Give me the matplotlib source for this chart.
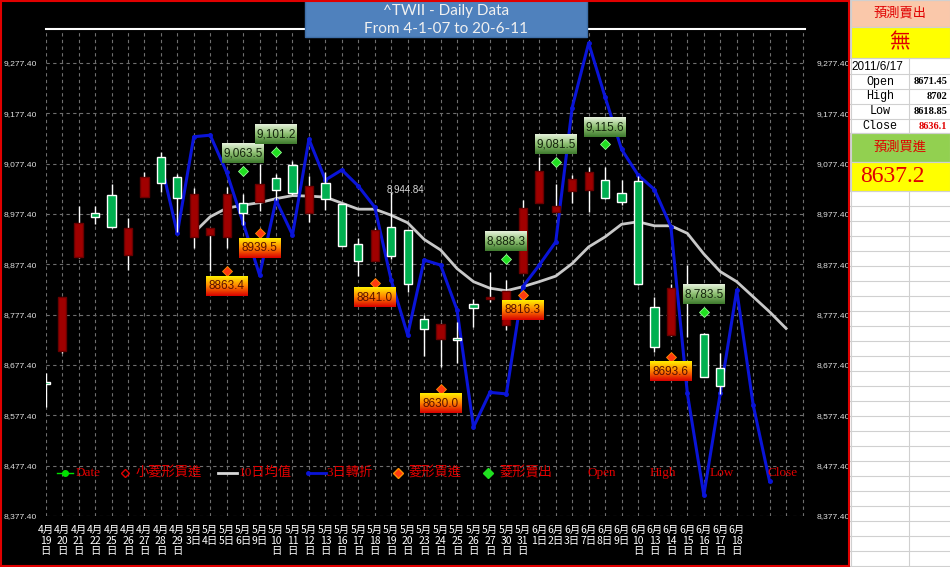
import numpy as np
import matplotlib
matplotlib.use('Agg')
import matplotlib.pyplot as plt
from matplotlib import font_manager
from matplotlib.patches import Rectangle
from matplotlib.lines import Line2D
from matplotlib.colors import LinearSegmentedColormap

# ---- data ----
dates = ['4月\n19\n日', '4月\n20\n日', '4月\n21\n日', '4月\n22\n日', '4月\n25\n日', '4月\n26\n日',
         '4月\n27\n日', '4月\n28\n日', '4月\n29\n日', '5月\n3日', '5月\n4日', '5月\n5日', '5月\n6日',
         '5月\n9日', '5月\n10\n日', '5月\n11\n日', '5月\n12\n日', '5月\n13\n日', '5月\n16\n日',
         '5月\n17\n日', '5月\n18\n日', '5月\n19\n日', '5月\n20\n日', '5月\n23\n日', '5月\n24\n日',
         '5月\n25\n日', '5月\n26\n日', '5月\n27\n日', '5月\n30\n日', '5月\n31\n日', '6月\n1日',
         '6月\n2日', '6月\n3日', '6月\n7日', '6月\n8日', '6月\n9日', '6月\n10\n日', '6月\n13\n日',
         '6月\n14\n日', '6月\n15\n日', '6月\n16\n日', '6月\n17\n日', '6月\n18\n日']

opens = [8644, 8706, 8892, 8980, 9016, 8895, 9012, 9090, 9050, 8931, 8936, 8932, 8999, 9002,
         9048, 9074, 8979, 9040, 8997, 8918, 8885, 8952, 8945, 8769, 8729, 8732, 8798, 8808,
         8757, 8861, 9000, 8982, 9024, 9026, 9044, 9020, 9043, 8792, 8737, 8805, 8740, 8671.45]
highs = [8661, 8813, 8993, 8993, 9038, 8969, 9061, 9100, 9057, 9030, 8949, 9031, 9018, 9076,
         9057, 9083, 9053, 9060, 8998, 8929, 8949, 9022, 8946, 8777, 8760, 8763, 8808, 8862,
         8846, 9005, 9091, 9037, 9055, 9071, 9071, 9045, 9053, 8813, 8838, 8876, 8741, 8702]
lows = [8593, 8701, 8890, 8957, 8950, 8867, 9011, 9022, 8942, 8909, 8865, 8910, 8956, 8984,
        9005, 9015, 8962, 8985, 8913, 8855, 8884, 8889, 8823, 8695, 8674, 8682, 8752, 8803,
        8747, 8860, 8999, 8981, 8999, 8982, 9008, 8995, 8837, 8704, 8736, 8734, 8653, 8618.85]
closes = [8639, 8813, 8959, 8971, 8951, 8949, 9050, 9040, 9009, 9018, 8949, 9017, 8979, 9037,
          9025, 9020, 9034, 9007, 8914, 8885, 8945, 8894, 8838, 8748, 8759, 8728, 8790, 8813,
          8825, 8989, 9063, 8993, 9046, 9060, 9009, 9001, 8838, 8714, 8830, 8830, 8654, 8636.1]

# 10日均值 (starts at 4/29)
ma_start = 9
ma10 = [8940, 8972, 8989, 8995, 9000, 9008, 9014, 9013, 9011, 8999, 8987, 8987, 8975, 8960,
        8927, 8906, 8869, 8843, 8830, 8825, 8833, 8843, 8854, 8879, 8912, 8932, 8957, 8962,
        8954, 8954, 8939, 8898, 8863, 8843, 8813, 8783, 8750]

# 3日轉折 (starts at 4/28)
turn_start = 7
turn3 = [9080, 8939, 9131, 9134, 9060, 8960, 8856, 9005, 8936, 9126, 9045, 9065, 9033, 8991,
         8846, 8737, 8886, 8876, 8787, 8554, 8623, 8620, 8833, 8876, 8922, 9189, 9317, 9210,
         9106, 9055, 9026, 8952, 8621, 8419, 8621, 8826, 8598, 8446]

buy_idx = [11, 13, 20, 24, 29, 38]
buy_val = [8863.4, 8939.5, 8841.0, 8630.0, 8816.3, 8693.6]
sell_idx = [12, 14, 28, 31, 34, 40]
sell_val = [9063.5, 9101.2, 8888.3, 9081.5, 9115.6, 8783.5]

note_idx, note_val, note_text = 21, 9026, '8,944.84'

yticks = [8377.40, 8477.40, 8577.40, 8677.40, 8777.40, 8877.40, 8977.40, 9077.40, 9177.40, 9277.40]

panel_date = '2011/6/17'
panel_fields = ['Open', 'High', 'Low', 'Close']
panel_values = ['8671.45', '8702', '8618.85', '8636.1']
panel_sell = '無'
panel_buy = '8637.2'

# ---- fonts ----
avail = {f.name for f in font_manager.fontManager.ttflist}
num_font = 'Liberation Sans Narrow' if 'Liberation Sans Narrow' in avail else 'Liberation Sans'
cjk = 'Noto Sans CJK TC'
serif_cjk = ['Liberation Serif', cjk]

W, H = 950, 567
fig = plt.figure(figsize=(9.5, 5.67), dpi=100)
fig.patch.set_facecolor('black')


def fx(px):
    return px / W


def fy(py):
    return 1 - py / H


ax = fig.add_axes([fx(45.7), fy(516), fx(805) - fx(45.7), fy(29.3) - fy(516)])
ax.set_facecolor('black')

RED = '#A00000'
GREEN = '#00B050'

# candles
bw = 0.5
for i in range(len(opens)):
    o, h, l, c = opens[i], highs[i], lows[i], closes[i]
    ax.vlines(i, l, h, color='white', lw=1, zorder=3)
    if c >= o:
        fc, ec = RED, '#6a0000'
    else:
        fc, ec = GREEN, 'white'
    ax.add_patch(Rectangle((i - bw / 2, min(o, c)), bw, max(abs(c - o), 4),
                           facecolor=fc, edgecolor=ec, lw=1, zorder=4))

# lines
ax.plot(range(ma_start, ma_start + len(ma10)), ma10, color='#C8C8C8', lw=2, zorder=2,
        solid_joinstyle='round')
ax.plot(range(turn_start, turn_start + len(turn3)), turn3, color='#0A14D8', lw=2.2, zorder=2,
        marker='o', ms=2.5, solid_joinstyle='round')

# diamonds
ax.plot(buy_idx, buy_val, 'D', color='#FF3A10', mec='#FF9000', mew=0.6, ms=5.5, zorder=6,
        ls='none')
ax.plot(sell_idx, sell_val, 'D', color='#20E020', mec='#90FF90', mew=0.6, ms=5.5, zorder=6,
        ls='none')

# gradient value labels
green_cmap = LinearSegmentedColormap.from_list('g', ['#3E7A2E', '#8CBE70', '#E6F2DC'])
red_cmap = LinearSegmentedColormap.from_list('r', ['#D80000', '#FF8000', '#FFF000'])
grad = np.linspace(0, 1, 64).reshape(-1, 1)
lw_idx = 2.55   # box width in index units
lh_val = 38     # box height in value units


def value_box(xc, ybot, text, cmap, tcolor):
    ax.imshow(grad, extent=[xc - lw_idx / 2, xc + lw_idx / 2, ybot, ybot + lh_val],
              aspect='auto', cmap=cmap, origin='lower', zorder=7, interpolation='bilinear')
    ax.text(xc, ybot + lh_val / 2, text, ha='center', va='center', fontsize=8.5,
            family='Liberation Sans', color=tcolor, zorder=8)


for i, v in zip(sell_idx, sell_val):
    value_box(i, v + 15, f'{v:,.1f}', green_cmap, '#14240c')
for i, v in zip(buy_idx, buy_val):
    value_box(i, v - 10.5 - lh_val, f'{v:.1f}', red_cmap, '#5a1000')

ax.text(note_idx - 0.27, note_val, note_text, color='#D8D8D8', fontsize=7,
        family=num_font, ha='left', va='center', zorder=8)

# axes styling
ax.set_xlim(0, 46.15)
ax.set_ylim(8377.4, 9344.4)
ax.set_xticks(range(47))
ax.set_xticklabels(dates + [''] * (47 - len(dates)), color='white', fontsize=7.5,
                   family=cjk, linespacing=1.08, va='top')
ylabels = [f'{t:,.2f}' for t in yticks]
ax.set_yticks(yticks)
ax.set_yticklabels(ylabels, color='#E0E0E0', fontsize=6.1, family=num_font)
ax.tick_params(axis='both', length=0)
ax.tick_params(axis='x', pad=6.5)
ax.tick_params(axis='y', pad=6.5)
ax.grid(True, color='#6E6E6E', lw=0.8, ls=(0, (3, 3)))
for s in ['left', 'right', 'bottom']:
    ax.spines[s].set_visible(False)
ax.spines['top'].set_color('white')
ax.spines['top'].set_linewidth(1.5)

# right-hand value axis
axr = ax.twinx()
axr.set_ylim(ax.get_ylim())
axr.set_yticks(yticks)
axr.set_yticklabels(ylabels, color='#E0E0E0', fontsize=6.1, family=num_font)
axr.tick_params(axis='y', length=0, pad=8.5)
for s in axr.spines.values():
    s.set_visible(False)

# legend (manual, inside the plot)
ly = fy(473)
lc = '#E00000'


def lg_text(x, s):
    fig.text(fx(x), ly, s, color=lc, fontsize=9.5, family=serif_cjk, ha='left', va='center')


fig.add_artist(Line2D([fx(56.7), fx(73.3)], [ly, ly], color='#00E000', lw=1,
                      transform=fig.transFigure))
fig.add_artist(Line2D([fx(65)], [ly], color='#00E000', marker='o', ms=4,
                      transform=fig.transFigure))
lg_text(75.5, 'Date')
fig.add_artist(Line2D([fx(125)], [ly], color='none', mec=lc, mew=1, marker='D', ms=4.5,
                      transform=fig.transFigure))
lg_text(136, '小菱形買進')
fig.add_artist(Line2D([fx(218), fx(236.7)], [ly, ly], color='#D8D8D8', lw=2,
                      transform=fig.transFigure))
lg_text(238.5, '10日均值')
fig.add_artist(Line2D([fx(308), fx(326)], [ly, ly], color='#0A14D8', lw=2, marker='o', ms=2.5,
                      markevery=[0], transform=fig.transFigure))
lg_text(326.5, '3日轉折')
fig.add_artist(Line2D([fx(398)], [ly], color='#FF3A10', mec='#FF9000', marker='D', ms=5,
                      transform=fig.transFigure))
lg_text(408, '菱形買進')
fig.add_artist(Line2D([fx(488)], [ly], color='#20E020', marker='D', ms=5,
                      transform=fig.transFigure))
lg_text(499, '菱形賣出')
for x, s in zip([588, 650, 710, 768], ['Open', 'High', 'Low', 'Close']):
    lg_text(x, s)

# title box
fig.add_artist(Rectangle((fx(305), fy(37)), fx(282), fy(0) - fy(37), facecolor='#4F81BD',
                         edgecolor='#3F6FA8', lw=1, transform=fig.transFigure, zorder=10))
fig.text(fx(446), fy(10.5), '^TWII - Daily Data', color='#F0F0F0', fontsize=11, family='Lato',
         ha='center', va='center', zorder=11)
fig.text(fx(446), fy(29), 'From 4-1-07 to 20-6-11', color='#F0F0F0', fontsize=11,
         family='Lato', ha='center', va='center', zorder=11)

# red frame around the chart area
fig.add_artist(Rectangle((fx(1), fy(566)), fx(848), fy(1) - fy(566), fill=False,
                         edgecolor='#E00000', lw=1.5, transform=fig.transFigure, zorder=12))

# right-hand sheet panel
ax2 = fig.add_axes([fx(850), 0, fx(100), 1])
ax2.set_xlim(850, 950)
ax2.set_ylim(567, 0)
ax2.axis('off')
ax2.add_patch(Rectangle((850, 0), 100, 567, facecolor='white', edgecolor='none'))
gridc = '#D0D0D0'
row_edges = [0, 26.7, 58.3, 74, 89, 104, 119, 133.3, 161.7, 190.7]
row_edges += list(np.arange(205.7, 567, 15))
for y in row_edges:
    ax2.plot([850, 950], [y, y], color=gridc, lw=0.8)
ax2.plot([909.3, 909.3], [58.3, 133.3], color=gridc, lw=0.8)
ax2.plot([909.3, 909.3], [190.7, 567], color=gridc, lw=0.8)
ax2.plot([850.5, 850.5], [0, 567], color=gridc, lw=0.8)
ax2.add_patch(Rectangle((850, 0), 100, 26.7, facecolor='#FAC8AA', edgecolor=gridc, lw=0.8))
ax2.add_patch(Rectangle((850, 26.7), 100, 31.6, facecolor='#FFFF00', edgecolor=gridc, lw=0.8))
ax2.add_patch(Rectangle((850, 133.3), 100, 28.4, facecolor='#92D050', edgecolor=gridc, lw=0.8))
ax2.add_patch(Rectangle((850, 161.7), 100, 29, facecolor='#FFFF00', edgecolor=gridc, lw=0.8))
ax2.text(900, 13.5, '預測賣出', color='#E00000', fontsize=9.5, family=cjk, ha='center',
         va='center')
ax2.text(900, 42.5, panel_sell, color='#E00000', fontsize=15, family=cjk, ha='center',
         va='center')
ax2.text(851, 66.5, panel_date, color='black', fontsize=8.5, family='Liberation Sans',
         ha='left', va='center')
row_mid = [81.5, 96.5, 111.5, 126.2]
for k, (name, val) in enumerate(zip(panel_fields, panel_values)):
    ax2.text(880, row_mid[k], name, color='black', fontsize=8.5, family='Liberation Mono',
             ha='center', va='center')
    ax2.text(947, row_mid[k], val, color='#E00000' if name == 'Close' else 'black',
             fontsize=7.5, family='Liberation Serif', weight='bold', ha='right', va='center')
ax2.text(900, 147.5, '預測買進', color='#E00000', fontsize=9.5, family=cjk, ha='center',
         va='center')
ax2.text(892, 177, panel_buy, color='#E00000', fontsize=17, family='Liberation Serif',
         ha='center', va='center')

fig.savefig('out.png', dpi=100, facecolor='black')
